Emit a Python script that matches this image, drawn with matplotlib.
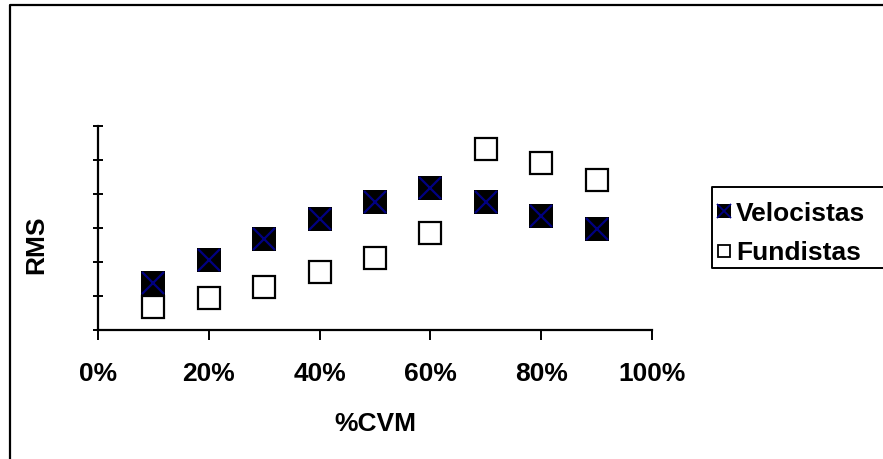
import matplotlib
matplotlib.use('Agg')
import matplotlib.pyplot as plt
from matplotlib.lines import Line2D
from matplotlib.legend_handler import HandlerTuple

#===============================================================================
# data
#===============================================================================
cvm_pct = [10, 20, 30, 40, 50, 60, 70, 80, 90]
rms_velocistas = [1.37, 2.06, 2.68, 3.26, 3.76, 4.17, 3.76, 3.36, 2.96]
rms_fundistas = [0.67, 0.93, 1.27, 1.70, 2.11, 2.84, 5.31, 4.92, 4.41]
xticks = [0, 20, 40, 60, 80, 100]
xtick_labels = ['%d%%' % v for v in xticks]

#===============================================================================
# style
#===============================================================================
plt.rcParams['font.family'] = ['Liberation Sans', 'DejaVu Sans']
plt.rcParams['font.weight'] = 'bold'
plt.rcParams['font.size'] = 19

W, H = 883, 459
fig = plt.figure(figsize=(W / 100, H / 100), dpi=100)

def fx(px):
    return px / W

def fy(py):
    return 1 - py / H

# chart border: only top and left edges are inside the picture
fig.add_artist(Line2D([fx(10), fx(10), fx(W + 20)], [fy(H + 20), fy(5), fy(5)],
                      transform=fig.transFigure, color='black', linewidth=1.6))
# legend frame: right edge falls outside the picture
fig.add_artist(Line2D([fx(W + 20), fx(712), fx(712), fx(W + 20)],
                      [fy(187), fy(187), fy(268), fy(268)],
                      transform=fig.transFigure, color='black', linewidth=1.4))

ax = fig.add_axes([fx(98), fy(330), fx(652) - fx(98), fy(126) - fy(330)])

navy = '#000080'
# Velocistas: black squares with navy cross
ax.plot(cvm_pct, rms_velocistas, linestyle='none', marker='s', ms=17.5,
        mfc='black', mec='black', mew=0, clip_on=False, zorder=3)
ax.plot(cvm_pct, rms_velocistas, linestyle='none', marker='x', ms=16,
        mec=navy, mew=1.6, clip_on=False, zorder=4)
# Fundistas: hollow squares
ax.plot(cvm_pct, rms_fundistas, linestyle='none', marker='s', ms=15.5,
        mfc='white', mec='black', mew=1.6, clip_on=False, zorder=3)

ax.set_xlim(0, 100)
ax.set_ylim(0, 6)
ax.set_xticks(xticks)
ax.set_xticklabels(xtick_labels)
ax.set_yticks(range(0, 7))
ax.set_yticklabels([])

for side in ['top', 'right']:
    ax.spines[side].set_visible(False)
for side in ['left', 'bottom']:
    ax.spines[side].set_linewidth(1.6)

ax.tick_params(axis='x', direction='out', length=7, width=1.4, pad=16)
ax.tick_params(axis='y', direction='inout', length=7, width=1.4)

ax.set_xlabel('%CVM', fontweight='bold')
ax.xaxis.set_label_coords(0.5, -0.40)
ax.set_ylabel('RMS', fontweight='bold')
ax.yaxis.set_label_coords(-0.09, 0.42)

#===============================================================================
# legend
#===============================================================================
h_vel = (Line2D([], [], linestyle='none', marker='s', ms=10, mfc='black', mew=0),
         Line2D([], [], linestyle='none', marker='x', ms=9.5, mec=navy, mew=1.3))
h_fun = Line2D([], [], linestyle='none', marker='s', ms=8.5, mfc='white',
               mec='black', mew=1.3)

leg = fig.legend([h_vel, h_fun], ['Velocistas', 'Fundistas'],
                 handler_map={tuple: HandlerTuple(ndivide=1)},
                 loc='upper left',
                 bbox_to_anchor=(fx(702), fy(187)),
                 borderaxespad=0, handlelength=0.6,
                 handletextpad=0.15, labelspacing=0.6, borderpad=0.55,
                 frameon=False, fontsize=19)

fig.savefig('out.png', dpi=100)
